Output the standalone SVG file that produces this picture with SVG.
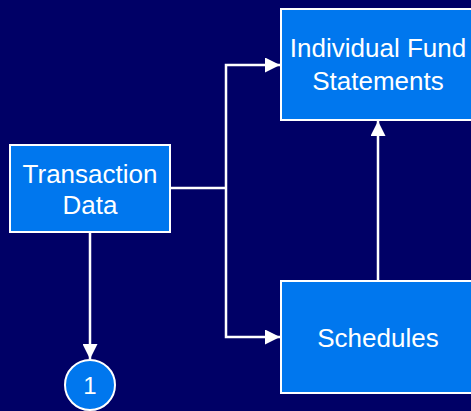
<svg xmlns="http://www.w3.org/2000/svg" width="471" height="411" viewBox="0 0 471 411">
  <style>
    .box { fill: #0077ee; stroke: #ffffff; stroke-width: 2; }
    .lbl { font-family: "Liberation Sans", Arial, sans-serif; font-size: 26px; fill: #ffffff; text-anchor: middle; }
    .wire { fill: none; stroke: #ffffff; stroke-width: 2.5; }
  </style>
  <defs>
    <marker id="arrow" viewBox="0 0 10 10" refX="10" refY="5" markerWidth="6" markerHeight="6" markerUnits="strokeWidth" orient="auto">
      <path d="M0,0 L10,5 L0,10 z" fill="#ffffff"/>
    </marker>
  </defs>
  <rect width="471" height="411" fill="#000066"/>

  <g id="connectors">
    <path class="wire" d="M171,188 H226"/>
    <path class="wire" d="M226,188 V65 H280" marker-end="url(#arrow)"/>
    <path class="wire" d="M226,188 V337 H280" marker-end="url(#arrow)"/>
    <path class="wire" d="M378,280 V121" marker-end="url(#arrow)"/>
    <path class="wire" d="M90,233 V359" marker-end="url(#arrow)"/>
  </g>

  <g id="transaction-data">
    <rect class="box" x="10" y="145" width="160" height="87"/>
    <text class="lbl" x="90" y="183">Transaction</text>
    <text class="lbl" x="90" y="214">Data</text>
  </g>

  <g id="individual-fund-statements">
    <rect class="box" x="281" y="9" width="200" height="111"/>
    <text class="lbl" x="378" y="57">Individual Fund</text>
    <text class="lbl" x="378" y="90">Statements</text>
  </g>

  <g id="schedules">
    <rect class="box" x="281" y="281" width="200" height="112"/>
    <text class="lbl" x="378" y="347">Schedules</text>
  </g>

  <g id="connector-1">
    <circle cx="90" cy="385" r="25" fill="#0077ee" stroke="#ffffff" stroke-width="2"/>
    <text class="lbl" x="90" y="394" style="font-size:24px">1</text>
  </g>
</svg>
